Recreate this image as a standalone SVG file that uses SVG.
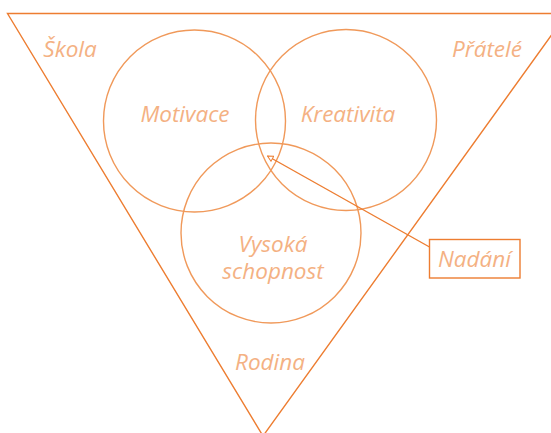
<svg xmlns="http://www.w3.org/2000/svg" width="551" height="433" viewBox="0 0 551 433">
<defs>
<style>
.edge{fill:none;stroke:#ED7D31;stroke-width:1.4}
.circ{fill:none;stroke:#F0995A;stroke-width:1.4}
.lbl{font-family:"Open Sans","Liberation Sans",sans-serif;font-style:italic;font-size:22.5px;fill:#F4B183;text-anchor:middle}
</style>
<marker id="arr" viewBox="0 0 10 10" refX="9" refY="5" markerWidth="7" markerHeight="7" orient="auto" markerUnits="userSpaceOnUse">
<path d="M1,1 L9,5 L1,9 Z" fill="#fff" stroke="#ED7D31" stroke-width="1.4"/>
</marker>
</defs>
<rect width="551" height="433" fill="#fff"/>
<g id="triangle">
<polygon class="edge" points="7.5,13.5 567,13.5 263,436"/>
</g>
<g id="skola"><text class="lbl" x="70" y="57">Škola</text></g>
<g id="pratele"><text class="lbl" x="487" y="57">Přátelé</text></g>
<g id="rodina"><text class="lbl" x="270" y="370">Rodina</text></g>
<g id="motivace">
<circle class="circ" cx="194.5" cy="121" r="91"/>
<text class="lbl" x="185" y="122">Motivace</text>
</g>
<g id="kreativita">
<circle class="circ" cx="346" cy="120" r="90.5"/>
<text class="lbl" x="348" y="122">Kreativita</text>
</g>
<g id="vysoka">
<circle class="circ" cx="271" cy="233" r="90"/>
<text class="lbl" x="273" y="252">Vysoká</text>
<text class="lbl" x="273" y="279">schopnost</text>
</g>
<g id="nadani">
<rect class="edge" x="429.5" y="239.5" width="90.5" height="38.5"/>
<text class="lbl" x="474.5" y="267">Nadání</text>
</g>
<g id="connectors">
<line class="edge" x1="429.5" y1="247" x2="267.5" y2="156" marker-end="url(#arr)"/>
</g>
</svg>
